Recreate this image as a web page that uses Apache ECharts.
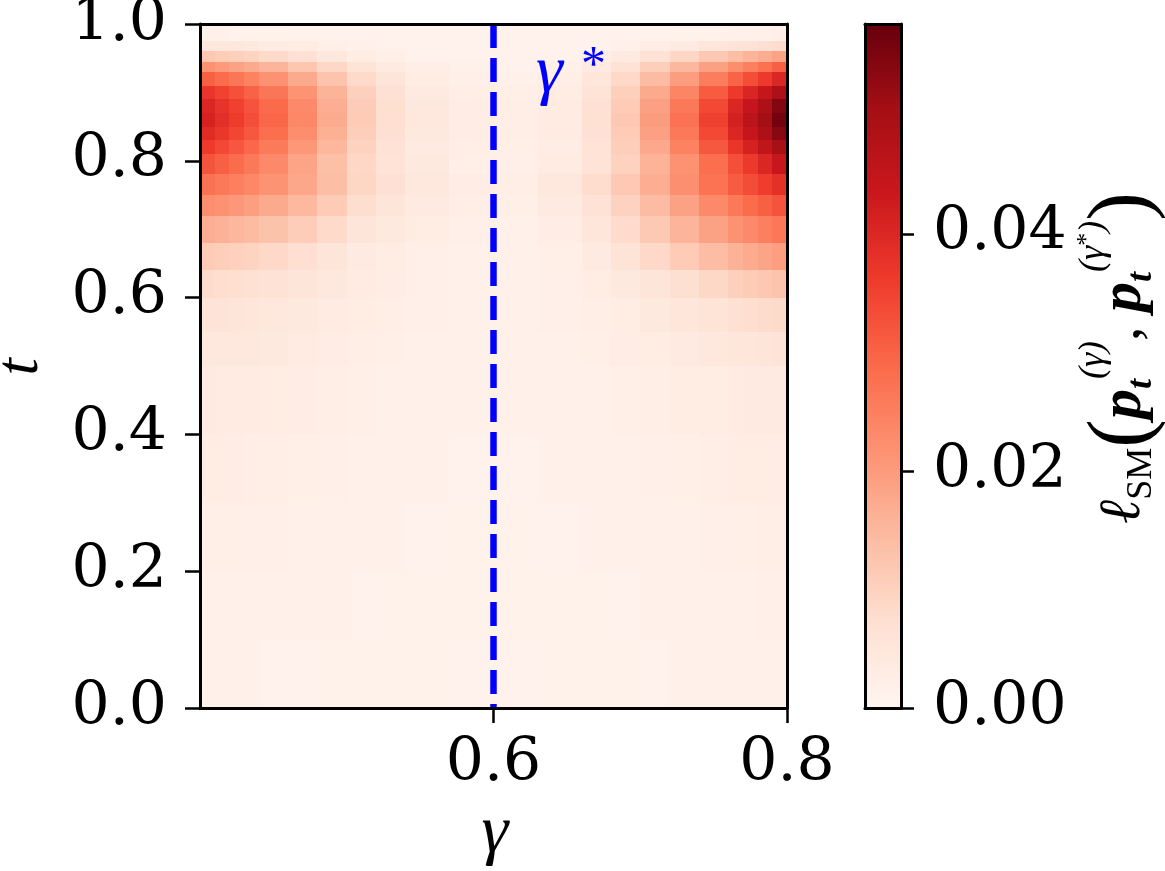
<!DOCTYPE html>
<html>
<head>
<meta charset="utf-8">
<script src="https://cdn.jsdelivr.net/npm/echarts@6/dist/echarts.min.js"></script>
<style>
  html, body { margin: 0; padding: 0; background: #fff; }
  #heat { width: 1165px; height: 871px; }
</style>
</head>
<body>
<div id="heat"></div>
<script>
// cell edges (gamma along x, t along y), finer near the two edges
var gammaEdges = [0.40, 0.41, 0.42, 0.43, 0.44, 0.46, 0.48, 0.50, 0.52, 0.54, 0.57, 0.60,
                  0.63, 0.66, 0.68, 0.70, 0.72, 0.74, 0.76, 0.77, 0.78, 0.79, 0.80];
var tEdges = [0, 0.1, 0.2, 0.3, 0.4, 0.5, 0.55, 0.6, 0.64, 0.68, 0.72, 0.75, 0.78, 0.81,
              0.83, 0.85, 0.87, 0.89, 0.91, 0.93, 0.945, 0.96, 0.975, 1.0];

// loss values, one row per t band (bottom to top)
var lossGrid = [
  [0.0015,0.0015,0.0014,0.0014,0.0013,0.0013,0.0012,0.0012,0.0011,0.0011,0.0010,0.0010,0.0011,0.0011,0.0012,0.0013,0.0014,0.0015,0.0016,0.0016,0.0017,0.0018],
  [0.0018,0.0018,0.0017,0.0017,0.0016,0.0015,0.0014,0.0013,0.0012,0.0012,0.0011,0.0011,0.0012,0.0012,0.0013,0.0014,0.0015,0.0016,0.0017,0.0018,0.0019,0.0020],
  [0.0022,0.0021,0.0021,0.0020,0.0019,0.0018,0.0017,0.0015,0.0014,0.0013,0.0012,0.0012,0.0013,0.0014,0.0015,0.0017,0.0018,0.0020,0.0021,0.0022,0.0023,0.0024],
  [0.0028,0.0027,0.0026,0.0025,0.0024,0.0022,0.0020,0.0018,0.0016,0.0014,0.0013,0.0013,0.0014,0.0016,0.0018,0.0020,0.0022,0.0025,0.0027,0.0028,0.0029,0.0030],
  [0.0037,0.0036,0.0034,0.0033,0.0031,0.0027,0.0024,0.0021,0.0018,0.0016,0.0014,0.0014,0.0016,0.0018,0.0021,0.0024,0.0028,0.0032,0.0035,0.0037,0.0038,0.0039],
  [0.0049,0.0047,0.0045,0.0043,0.0040,0.0035,0.0030,0.0025,0.0021,0.0017,0.0015,0.0015,0.0017,0.0021,0.0026,0.0032,0.0038,0.0044,0.0050,0.0053,0.0055,0.0057],
  [0.0061,0.0058,0.0055,0.0052,0.0048,0.0042,0.0035,0.0029,0.0024,0.0019,0.0016,0.0016,0.0019,0.0025,0.0032,0.0041,0.0051,0.0061,0.0070,0.0076,0.0080,0.0084],
  [0.0079,0.0076,0.0073,0.0070,0.0064,0.0055,0.0045,0.0034,0.0027,0.0020,0.0016,0.0016,0.0020,0.0029,0.0041,0.0056,0.0072,0.0088,0.0103,0.0112,0.0120,0.0127],
  [0.0113,0.0108,0.0102,0.0097,0.0087,0.0074,0.0056,0.0038,0.0028,0.0019,0.0014,0.0014,0.0022,0.0038,0.0060,0.0086,0.0114,0.0140,0.0160,0.0172,0.0184,0.0196],
  [0.0167,0.0160,0.0151,0.0143,0.0129,0.0109,0.0083,0.0056,0.0041,0.0029,0.0019,0.0018,0.0030,0.0053,0.0081,0.0116,0.0154,0.0189,0.0216,0.0232,0.0248,0.0265],
  [0.0225,0.0216,0.0205,0.0193,0.0175,0.0147,0.0113,0.0076,0.0055,0.0038,0.0025,0.0022,0.0038,0.0065,0.0099,0.0142,0.0188,0.0231,0.0264,0.0284,0.0304,0.0323],
  [0.0274,0.0263,0.0249,0.0235,0.0213,0.0179,0.0137,0.0092,0.0067,0.0046,0.0026,0.0023,0.0045,0.0077,0.0117,0.0168,0.0222,0.0273,0.0312,0.0335,0.0359,0.0382],
  [0.0323,0.0304,0.0284,0.0261,0.0231,0.0185,0.0135,0.0089,0.0062,0.0040,0.0022,0.0019,0.0033,0.0062,0.0100,0.0158,0.0216,0.0279,0.0329,0.0365,0.0401,0.0441],
  [0.0363,0.0340,0.0318,0.0292,0.0259,0.0207,0.0152,0.0100,0.0066,0.0038,0.0024,0.0021,0.0030,0.0062,0.0106,0.0177,0.0245,0.0316,0.0372,0.0413,0.0454,0.0500],
  [0.0392,0.0368,0.0344,0.0316,0.0280,0.0224,0.0164,0.0108,0.0071,0.0042,0.0026,0.0023,0.0033,0.0067,0.0114,0.0191,0.0264,0.0341,0.0402,0.0446,0.0490,0.0539],
  [0.0412,0.0386,0.0361,0.0332,0.0294,0.0235,0.0172,0.0113,0.0074,0.0044,0.0027,0.0024,0.0034,0.0069,0.0118,0.0198,0.0274,0.0353,0.0416,0.0462,0.0507,0.0562],
  [0.0402,0.0377,0.0353,0.0324,0.0287,0.0230,0.0168,0.0111,0.0073,0.0043,0.0026,0.0023,0.0033,0.0067,0.0114,0.0191,0.0264,0.0341,0.0402,0.0446,0.0490,0.0545],
  [0.0372,0.0350,0.0327,0.0300,0.0266,0.0213,0.0156,0.0103,0.0068,0.0039,0.0024,0.0021,0.0031,0.0061,0.0104,0.0174,0.0240,0.0310,0.0365,0.0405,0.0445,0.0490],
  [0.0304,0.0285,0.0267,0.0245,0.0217,0.0174,0.0127,0.0084,0.0055,0.0032,0.0020,0.0017,0.0024,0.0050,0.0085,0.0142,0.0197,0.0254,0.0299,0.0332,0.0365,0.0402],
  [0.0216,0.0202,0.0189,0.0174,0.0154,0.0123,0.0090,0.0059,0.0039,0.0023,0.0014,0.0013,0.0018,0.0037,0.0064,0.0107,0.0149,0.0192,0.0226,0.0251,0.0276,0.0304],
  [0.0118,0.0110,0.0103,0.0095,0.0084,0.0067,0.0049,0.0032,0.0021,0.0013,0.0010,0.0010,0.0011,0.0023,0.0038,0.0065,0.0091,0.0118,0.0139,0.0154,0.0169,0.0186],
  [0.0049,0.0046,0.0043,0.0040,0.0035,0.0028,0.0021,0.0014,0.0010,0.0010,0.0010,0.0010,0.0010,0.0010,0.0016,0.0027,0.0038,0.0050,0.0058,0.0065,0.0071,0.0078],
  [0.0015,0.0014,0.0013,0.0012,0.0011,0.0010,0.0010,0.0010,0.0010,0.0010,0.0010,0.0010,0.0010,0.0010,0.0010,0.0010,0.0011,0.0012,0.0015,0.0016,0.0018,0.0020]
];

var gammaStar = 0.6;
var xTicks = [0.6, 0.8];
var yTicks = [0, 0.2, 0.4, 0.6, 0.8, 1.0];
var cbTicks = [0, 0.02, 0.04];
var cbMax = 0.0577;
// matplotlib "Reds"
var redsPalette = ['#fff5f0', '#fee0d2', '#fcbba1', '#fc9272', '#fb6a4a', '#ef3b2c', '#cb181d', '#a50f15', '#67000d'];

var serif = '"DejaVu Serif", serif';
var mathFont = '"Liberation Serif", "DejaVu Serif", serif';

var cells = [];
for (var i = 0; i < tEdges.length - 1; i++) {
  for (var j = 0; j < gammaEdges.length - 1; j++) {
    cells.push([gammaEdges[j], gammaEdges[j + 1], tEdges[i], tEdges[i + 1], lossGrid[i][j]]);
  }
}

function renderCell(params, api) {
  var p0 = api.coord([api.value(0), api.value(3)]);
  var p1 = api.coord([api.value(1), api.value(2)]);
  var x0 = Math.round(p0[0]), y0 = Math.round(p0[1]);
  var x1 = Math.round(p1[0]), y1 = Math.round(p1[1]);
  return {
    type: 'rect',
    shape: { x: x0, y: y0, width: x1 - x0, height: y1 - y0 },
    style: { fill: api.visual('color') }
  };
}

// colour bar: one rect from 0 to cbMax with the same palette
function renderBar(params, api) {
  var top = api.coord([0, api.value(1)]);
  var bot = api.coord([1, api.value(0)]);
  var stops = redsPalette.map(function (c, k) {
    return { offset: k / (redsPalette.length - 1), color: c };
  });
  return {
    type: 'rect',
    shape: { x: top[0], y: top[1], width: bot[0] - top[0], height: bot[1] - top[1] },
    style: { fill: new echarts.graphic.LinearGradient(0, 1, 0, 0, stops) }
  };
}

function frameAxis(grid, pos, min, max) {
  return {
    type: 'value', gridIndex: grid, position: pos, min: min, max: max, z: 5,
    axisLine: { show: true, onZero: false, lineStyle: { color: '#000', width: 3 } },
    axisTick: { show: false }, axisLabel: { show: false }, splitLine: { show: false }
  };
}

var tickLabel = { fontSize: 60, fontFamily: serif, color: '#000' };

var chart = echarts.init(document.getElementById('heat'));
var option = {
  animation: false,
  grid: [
    { left: 200, top: 24, width: 587, height: 684, outerBoundsMode: 'none' },
    { left: 865, top: 24, width: 36, height: 684, outerBoundsMode: 'none' }
  ],
  xAxis: [
    {
      type: 'value', gridIndex: 0, position: 'bottom', min: 0.4, max: 0.8, z: 5,
      axisLine: { show: true, onZero: false, lineStyle: { color: '#000', width: 3 } },
      axisTick: { show: true, customValues: xTicks, length: 15, lineStyle: { color: '#000', width: 2.5 } },
      axisLabel: Object.assign({ customValues: xTicks, margin: 26, formatter: function (v) { return v.toFixed(1); } }, tickLabel),
      splitLine: { show: false }
    },
    frameAxis(0, 'top', 0.4, 0.8),
    frameAxis(1, 'bottom', 0, 1),
    frameAxis(1, 'top', 0, 1)
  ],
  yAxis: [
    {
      type: 'value', gridIndex: 0, position: 'left', min: 0, max: 1, z: 5,
      axisLine: { show: true, onZero: false, lineStyle: { color: '#000', width: 3 } },
      axisTick: { show: true, customValues: yTicks, length: 15, lineStyle: { color: '#000', width: 2.5 } },
      axisLabel: Object.assign({ customValues: yTicks, margin: 33, formatter: function (v) { return v.toFixed(1); } }, tickLabel),
      splitLine: { show: false }
    },
    frameAxis(0, 'right', 0, 1),
    frameAxis(1, 'left', 0, cbMax),
    {
      type: 'value', gridIndex: 1, position: 'right', min: 0, max: cbMax, z: 5,
      axisLine: { show: true, onZero: false, lineStyle: { color: '#000', width: 3 } },
      axisTick: { show: true, customValues: cbTicks, length: 13, lineStyle: { color: '#000', width: 2.5 } },
      axisLabel: Object.assign({ customValues: cbTicks, margin: 32, formatter: function (v) { return v.toFixed(2); } }, tickLabel),
      splitLine: { show: false }
    }
  ],
  visualMap: {
    show: false, type: 'continuous', seriesIndex: 0, dimension: 4,
    min: 0, max: cbMax, inRange: { color: redsPalette }
  },
  series: [
    {
      type: 'custom', xAxisIndex: 0, yAxisIndex: 0,
      renderItem: renderCell,
      encode: { x: [0, 1], y: [2, 3] },
      data: cells
    },
    {
      type: 'line', xAxisIndex: 0, yAxisIndex: 0, z: 4,
      symbol: 'none',
      lineStyle: { color: '#0000ff', width: 6.5, type: [24, 10] },
      data: [[gammaStar, 1], [gammaStar, 0]]
    },
    {
      type: 'custom', xAxisIndex: 2, yAxisIndex: 2,
      renderItem: renderBar,
      encode: { y: [0, 1] },
      data: [[0, cbMax]]
    }
  ],
  graphic: [
    { type: 'text', x: 21, y: 367, z: 100, rotation: Math.PI / 2,
      style: { text: 't', fontSize: 62, fontStyle: 'italic', fontFamily: mathFont, fill: '#000', align: 'center', verticalAlign: 'middle' } },
    { type: 'text', x: 495, y: 834, z: 100,
      style: { text: 'γ', fontSize: 68, fontStyle: 'italic', fontFamily: mathFont, fill: '#000', align: 'center', verticalAlign: 'middle' } },
    { type: 'text', x: 536, y: 74, z: 100,
      style: { text: 'γ', fontSize: 68, fontStyle: 'italic', fontFamily: mathFont, fill: '#0000ff', align: 'left', verticalAlign: 'middle' } },
    { type: 'text', x: 581, y: 67, z: 100,
      style: { text: '*', fontSize: 50, fontFamily: mathFont, fill: '#0000ff', align: 'left', verticalAlign: 'middle' } },
    {
      // colour bar label, reads upward
      type: 'text', x: 1124, y: 358, z: 100, rotation: Math.PI / 2,
      style: {
        text: '{ell|ℓ}{sub|SM}{big|(}{p|p}{subt|t}{sup|(γ)}{base|, }{p|p}{subt|t}{sup|(γ}{sup2|*}{sup|)}{big|)}',
        align: 'center', verticalAlign: 'middle', fill: '#000', fontFamily: mathFont,
        rich: {
          ell: { fontSize: 58, fontStyle: 'italic', fontFamily: mathFont, lineHeight: 100 },
          base: { fontSize: 58, fontFamily: mathFont, lineHeight: 100 },
          big: { fontSize: 86, fontFamily: mathFont, lineHeight: 100 },
          p: { fontSize: 60, fontStyle: 'italic', fontWeight: 'bold', fontFamily: mathFont, lineHeight: 100 },
          sub: { fontSize: 36, fontFamily: mathFont, lineHeight: 36, verticalAlign: 'bottom', padding: [0, 0, 14, 0] },
          subt: { fontSize: 36, fontStyle: 'italic', fontWeight: 'bold', fontFamily: mathFont, lineHeight: 36, verticalAlign: 'bottom', padding: [0, 0, 14, 0] },
          sup: { fontSize: 36, fontStyle: 'italic', fontFamily: mathFont, lineHeight: 36, verticalAlign: 'top', padding: [2, 0, 0, 0] },
          sup2: { fontSize: 26, fontFamily: mathFont, lineHeight: 26, verticalAlign: 'top' }
        }
      }
    }
  ]
};
chart.setOption(option);
</script>
</body>
</html>
